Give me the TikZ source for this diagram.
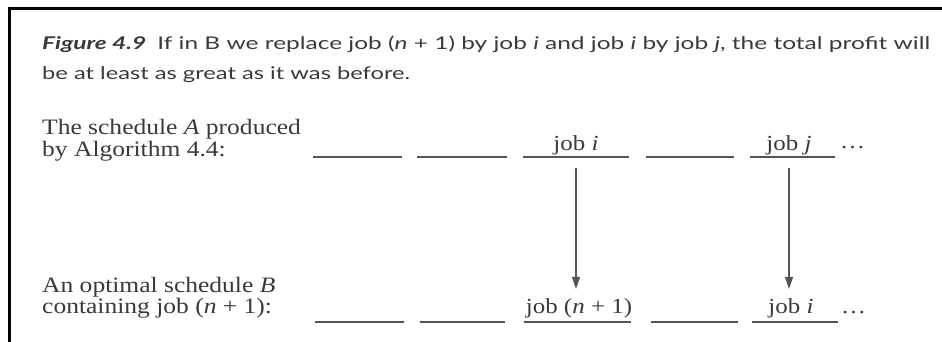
\documentclass[tikz,border=0pt]{standalone}
\usepackage{fontspec}
\setmainfont{Liberation Serif}[FakeStretch=1.16]
\newfontfamily\capfont{Lato}
\usetikzlibrary{arrows.meta}
\definecolor{ink}{HTML}{3A3A3A}
\definecolor{rule}{HTML}{555555}
\tikzset{
  slot/.style={minimum width=#1, minimum height=0pt, inner sep=0pt, outer sep=0pt},
  slotline/.style={draw=rule, line width=1.6pt},
  joblabel/.style={anchor=base, inner sep=0pt, text=ink, font=\fontsize{21.5}{22}\selectfont},
  sidetext/.style={anchor=base west, inner sep=0pt, text=ink, font=\fontsize{22}{22}\selectfont},
  captext/.style={anchor=base west, inner sep=0pt, text=ink, font=\capfont\fontsize{17.5}{22}\selectfont},
  dots/.style={anchor=base west, inner sep=0pt, text=ink, font=\fontsize{21.5}{22}\selectfont},
  arr/.style={draw=rule, line width=1.2pt, -{Triangle[length=12pt,width=8pt]}},
  frame/.style={draw=black, line width=3pt}
}
\begin{document}
\begin{tikzpicture}[x=1pt,y=-1pt]
\useasboundingbox (0,0) rectangle (942,342);
\fill[white] (0,0) rectangle (942,342);
% frame
\coordinate (fTL) at (9,9);
\coordinate (fTR) at (942,9);
\coordinate (fBL) at (9,342);
\draw[frame] (fTR) -- (fTL) -- (fBL);
% caption
\node[captext] (cap1) at (42,50) {\resizebox{888pt}{\height}{\textbf{\textit{Figure 4.9}}\hspace{0.45em}If in B we replace job (\textit{n} + 1) by job \textit{i} and job \textit{i} by job \textit{j}, the total profit will}};
\node[captext] (cap2) at (42,80) {\resizebox{368pt}{\height}{be at least as great as it was before.}};
% side texts
\node[sidetext] (ta1) at (42,135) {The schedule \textit{A} produced};
\node[sidetext] (ta2) at (42,157) {by Algorithm 4.4:};
\node[sidetext] (tb1) at (42,292) {An optimal schedule \textit{B}};
\node[sidetext] (tb2) at (42,313) {containing job (\textit{n} + 1):};
% top row slots
\node[slot=89pt]  (A1) at (357.5,157) {};
\node[slot=90pt]  (A2) at (462,157) {};
\node[slot=106pt] (A3) at (576,157) {};
\node[slot=88pt]  (A4) at (690,157) {};
\node[slot=85pt]  (A5) at (792.5,157) {};
% bottom row slots
\node[slot=89pt]  (B1) at (359.5,322) {};
\node[slot=85pt]  (B2) at (462.5,322) {};
\node[slot=107pt] (B3) at (577.5,322) {};
\node[slot=87pt]  (B4) at (694.5,322) {};
\node[slot=86pt]  (B5) at (795,322) {};
\foreach \s in {A1,A2,A3,A4,A5,B1,B2,B3,B4,B5}
  \draw[slotline] (\s.west) -- (\s.east);
% labels
\node[joblabel] (LA3) at (576,150) {job \textit{i}};
\node[joblabel] (LA5) at (789,150) {job \textit{j}};
\node[joblabel] (LB3) at (579,313) {job (\textit{n} + 1)};
\node[joblabel] (LB5) at (791,313) {job \textit{i}};
\node[dots] (DA) at (840,149) {\ldots};
\node[dots] (DB) at (841,313) {\ldots};
% arrows
\draw[arr, shorten <=11pt, shorten >=9pt] (A3.south) -- (A3.south |- LB3.north);
\draw[arr, shorten <=11pt, shorten >=9pt] (LA5.south |- A5.south) -- (LA5.south |- LB5.north);
\end{tikzpicture}
\end{document}
